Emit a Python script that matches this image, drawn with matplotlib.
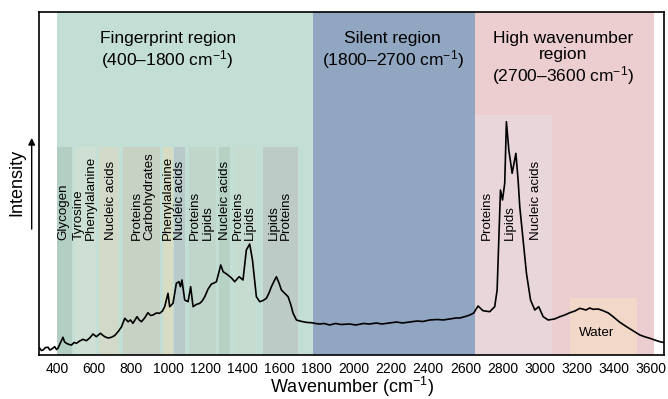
import matplotlib
matplotlib.use("Agg")
import matplotlib.pyplot as plt

plt.rcParams['font.family'] = ['Liberation Sans', 'DejaVu Sans']
plt.rcParams['mathtext.fontset'] = 'custom'
plt.rcParams['mathtext.rm'] = 'Liberation Sans'
plt.rcParams['mathtext.it'] = 'Liberation Sans:italic'
plt.rcParams['mathtext.bf'] = 'Liberation Sans:bold'

# ---- spectrum (wavenumber cm^-1, intensity a.u.) ----
wavenumber = [307, 316, 325, 338, 352, 361, 370, 379, 388, 397, 405, 418, 432, 441, 451, 465, 478,
              492, 505, 522, 540, 558, 576, 594, 612, 623, 634, 645, 657, 675,
              693, 711, 729, 747, 765, 783, 796, 809, 820, 831, 843, 855, 872, 890, 904, 917, 935,
              953, 968, 980, 998, 1007, 1025, 1043,
              1057, 1065, 1073, 1088, 1106, 1120, 1133, 1150, 1169, 1182, 1196, 1214, 1232, 1246,
              1259, 1282, 1295,
              1321, 1340, 1357, 1381, 1402, 1420, 1438, 1453, 1474, 1492, 1510, 1528, 1542, 1555,
              1570, 1582, 1596, 1609,
              1627, 1645, 1660, 1672, 1690, 1708, 1725, 1748, 1771, 1793, 1815, 1840, 1869, 1900,
              1930, 1977, 2010,
              2050, 2085, 2120, 2150, 2192, 2230, 2260, 2300, 2340, 2370, 2408, 2450, 2480,
              2516, 2550, 2570, 2600, 2624, 2645, 2668, 2695, 2731, 2758, 2771, 2781, 2789,
              2800, 2812, 2821, 2834, 2852, 2872, 2884, 2893, 2911, 2929, 2951, 2974, 2995,
              3019, 3046, 3080, 3109, 3135, 3163, 3190, 3217, 3250, 3270, 3288, 3315, 3342, 3370,
              3396, 3430, 3468, 3505, 3540, 3570, 3594, 3620, 3648, 3674]
intensity = [6.7, 4.5, 5, 7.5, 7.7, 5, 5.7, 7, 8.3, 5.5, 6.7, 12, 17.7, 13, 11.7, 10.5, 10,
             12.5, 11.7, 14, 15.7, 14.3, 17, 21, 18.3, 20, 21.7, 20, 18.3, 17,
             17.7, 19.5, 23.3, 28, 36.7, 33.3, 35, 31.7, 35, 38.3, 35, 33.3, 37, 42.3, 39.5, 40, 42,
             41.7, 44, 48.3, 61.7, 48.3, 51.7, 71.7,
             73.3, 68.3, 75, 55, 53.3, 68.3, 48.3, 50.5, 51.7, 54, 58.3, 66, 71, 72,
             73.3, 90, 83.3,
             80, 77, 73.3, 78.3, 75, 105, 111, 95, 58.3, 53.3, 54.5, 56.7, 62, 68.3,
             74, 78.3, 72, 65,
             61.7, 58.3, 50, 41.7, 35, 34, 33.3, 32.5, 32.3, 31.5, 31, 31.5, 30, 31.5,
             30.5, 31, 30,
             31.5, 31, 32, 31, 32, 33, 32, 33, 34, 33.5, 35, 35.5, 35,
             36, 37, 37, 38.5, 40, 42, 49, 44.3, 43.3, 48.3, 65, 121.7, 165,
             155, 171.7, 233.3, 205, 181.7, 201.7, 175, 148.3, 115, 81.7, 55, 45, 48.3,
             38.3, 35, 36, 38.3, 40, 42.3, 44, 46.7, 45, 47, 45.7, 46, 44.3, 42,
             38.3, 33, 28.3, 24, 20, 18, 16.7, 15, 13.3, 12.3]

# ---- main regions ----
region_spans = [(400, 1780), (1780, 2650), (2650, 3615)]
region_colors = ['#c3dfd5', '#91a6c0', '#eccdd0']
region_titles = ['Fingerprint region\n(400–1800 cm$^{-1}$)',
                 'Silent region\n(1800–2700 cm$^{-1}$)',
                 'High wavenumber\nregion\n(2700–3600 cm$^{-1}$)']
region_title_x = [996, 2208, 3124]

# ---- sub-bands ----
band_spans = [(400, 481), (499, 612), (625, 732), (756, 957), (971, 1025), (1029, 1090),
              (1111, 1259), (1271, 1330), (1357, 1474), (1510, 1698), (2650, 3066)]
band_colors = ['#b3cfc4', '#cee0d4', '#d2d9c9', '#c7d1c4', '#d8dcc3', '#b8cac9',
               '#c0d6cb', '#b5d2c5', '#c6dcd1', '#bccbc6', '#e9d6db']
band_top = 208
band_top_high = 240
band_labels = ['Glycogen', 'Tyrosine\nPhenylalanine', 'Nucleic acids', 'Proteins\nCarbohydrates',
               'Phenylalanine', 'Nucleic acids', 'Proteins\nLipids', 'Nucleic acids',
               'Proteins\nLipids', 'Lipids\nProteins', 'Proteins', 'Lipids', 'Nucleic acids']
band_label_x = [432, 549, 693, 863, 996, 1063, 1178, 1307, 1405, 1600, 2714, 2839, 2980]
label_base = 115

water_span = (3166, 3522)
water_top = 57
water_label = 'Water'
water_label_xy = (3307, 22)

xticks = [400, 600, 800, 1000, 1200, 1400, 1600, 1800, 2000, 2200, 2400, 2600, 2800,
          3000, 3200, 3400, 3600]

fig = plt.figure(figsize=(6.68, 3.99), dpi=100)
ax = fig.add_axes([39/668, 1 - 355/399, (664 - 39)/668, (355 - 12)/399])
ax.set_xlim(303, 3670)
ax.set_ylim(0, 343)

for (a, b), c in zip(region_spans, region_colors):
    ax.axvspan(a, b, ymin=0, ymax=1, color=c, lw=0, zorder=0)
for i, ((a, b), c) in enumerate(zip(band_spans, band_colors)):
    top = band_top_high if i == len(band_spans) - 1 else band_top
    ax.fill_between([a, b], 0, top, color=c, lw=0, zorder=1)
ax.fill_between(list(water_span), 0, water_top, color='#f2d8c8', lw=0, zorder=1)

ax.plot(wavenumber, intensity, color='black', lw=1.2, zorder=3)

for t, x in zip(region_titles, region_title_x):
    ax.text(x, 324, t, ha='center', va='top', fontsize=12.5, linespacing=1.1, zorder=4)

for lab, x in zip(band_labels, band_label_x):
    ax.text(x, label_base, lab, rotation=90, ha='center', va='bottom', multialignment='left',
            fontsize=9.6, linespacing=1.02, zorder=4)
ax.text(water_label_xy[0], water_label_xy[1], water_label, ha='center', va='center',
        fontsize=9.6, zorder=4)

ax.set_xticks(xticks)
ax.set_xticklabels([str(t) for t in xticks], fontsize=10)
ax.tick_params(axis='x', length=0, pad=5)
ax.set_yticks([])
for s in ax.spines.values():
    s.set_linewidth(1.2)
ax.set_xlabel('Wavenumber (cm$^{-1}$)', fontsize=13, labelpad=-1)

ax.annotate('', xy=(-0.0117, 0.641), xytext=(-0.0117, 0.359), xycoords='axes fraction',
            arrowprops=dict(arrowstyle='-|>', color='black', lw=1.0, mutation_scale=10),
            annotation_clip=False)
fig.text(17/668, 1 - 182/399, 'Intensity', rotation=90, ha='center', va='center', fontsize=13)

fig.savefig('out.png', dpi=100)
